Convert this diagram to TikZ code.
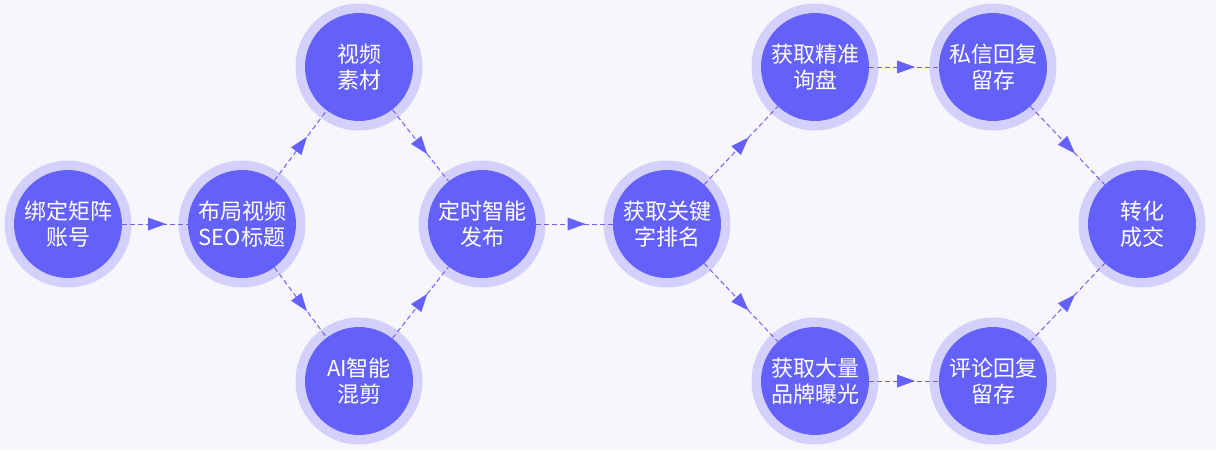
\documentclass[tikz,border=0pt]{standalone}
\usepackage{fontspec}
\setmainfont{Noto Sans CJK SC}
\usetikzlibrary{decorations.markings}
\definecolor{corec}{HTML}{6461FB}
\definecolor{ringc}{HTML}{D3D1FB}
\definecolor{bgc}{HTML}{F7F6FD}
\definecolor{linec}{HTML}{6C63F2}
\tikzset{
  ring/.style={circle, fill=ringc, minimum size=127pt, inner sep=0pt},
  core/.style={circle, fill=corec, minimum size=108pt, inner sep=0pt, text=white,
    font=\fontsize{22}{26}\selectfont, align=center},
  flow/.style={draw=linec, line width=1pt, dash pattern=on 5pt off 3pt,
    postaction={decorate},
    decoration={markings, mark=at position 0.5 with {\fill[corec] (11pt,0pt) -- (-7pt,6.5pt) -- (-7pt,-6.5pt) -- cycle;}}}
}
\newcommand\flownode[3]{%
  \node[ring] (#1r) at #2 {};
  \node[core] (#1) at #2 {#3};
}
\begin{document}
\begin{tikzpicture}[x=1pt,y=-1pt]
\fill[bgc] (0,0) rectangle (1216,450);
\useasboundingbox (0,0) rectangle (1216,450);
\flownode{a}{(68,224)}{绑定矩阵\\账号}
\flownode{b}{(242,224)}{布局视频\\SEO标题}
\flownode{c}{(359,67)}{视频\\素材}
\flownode{d}{(359,381)}{AI智能\\混剪}
\flownode{e}{(482,224)}{定时智能\\发布}
\flownode{f}{(667,224)}{获取关键\\字排名}
\flownode{g}{(815,67)}{获取精准\\询盘}
\flownode{h}{(815,381)}{获取大量\\品牌曝光}
\flownode{i}{(993,67)}{私信回复\\留存}
\flownode{j}{(993,381)}{评论回复\\留存}
\flownode{k}{(1142,224)}{转化\\成交}
\draw[flow] (a) -- (b);
\draw[flow] (b) -- (c);
\draw[flow] (b) -- (d);
\draw[flow] (c) -- (e);
\draw[flow] (d) -- (e);
\draw[flow] (e) -- (f);
\draw[flow] (f) -- (g);
\draw[flow] (f) -- (h);
\draw[flow] (g) -- (i);
\draw[flow] (h) -- (j);
\draw[flow] (i) -- (k);
\draw[flow] (j) -- (k);
\end{tikzpicture}
\end{document}
